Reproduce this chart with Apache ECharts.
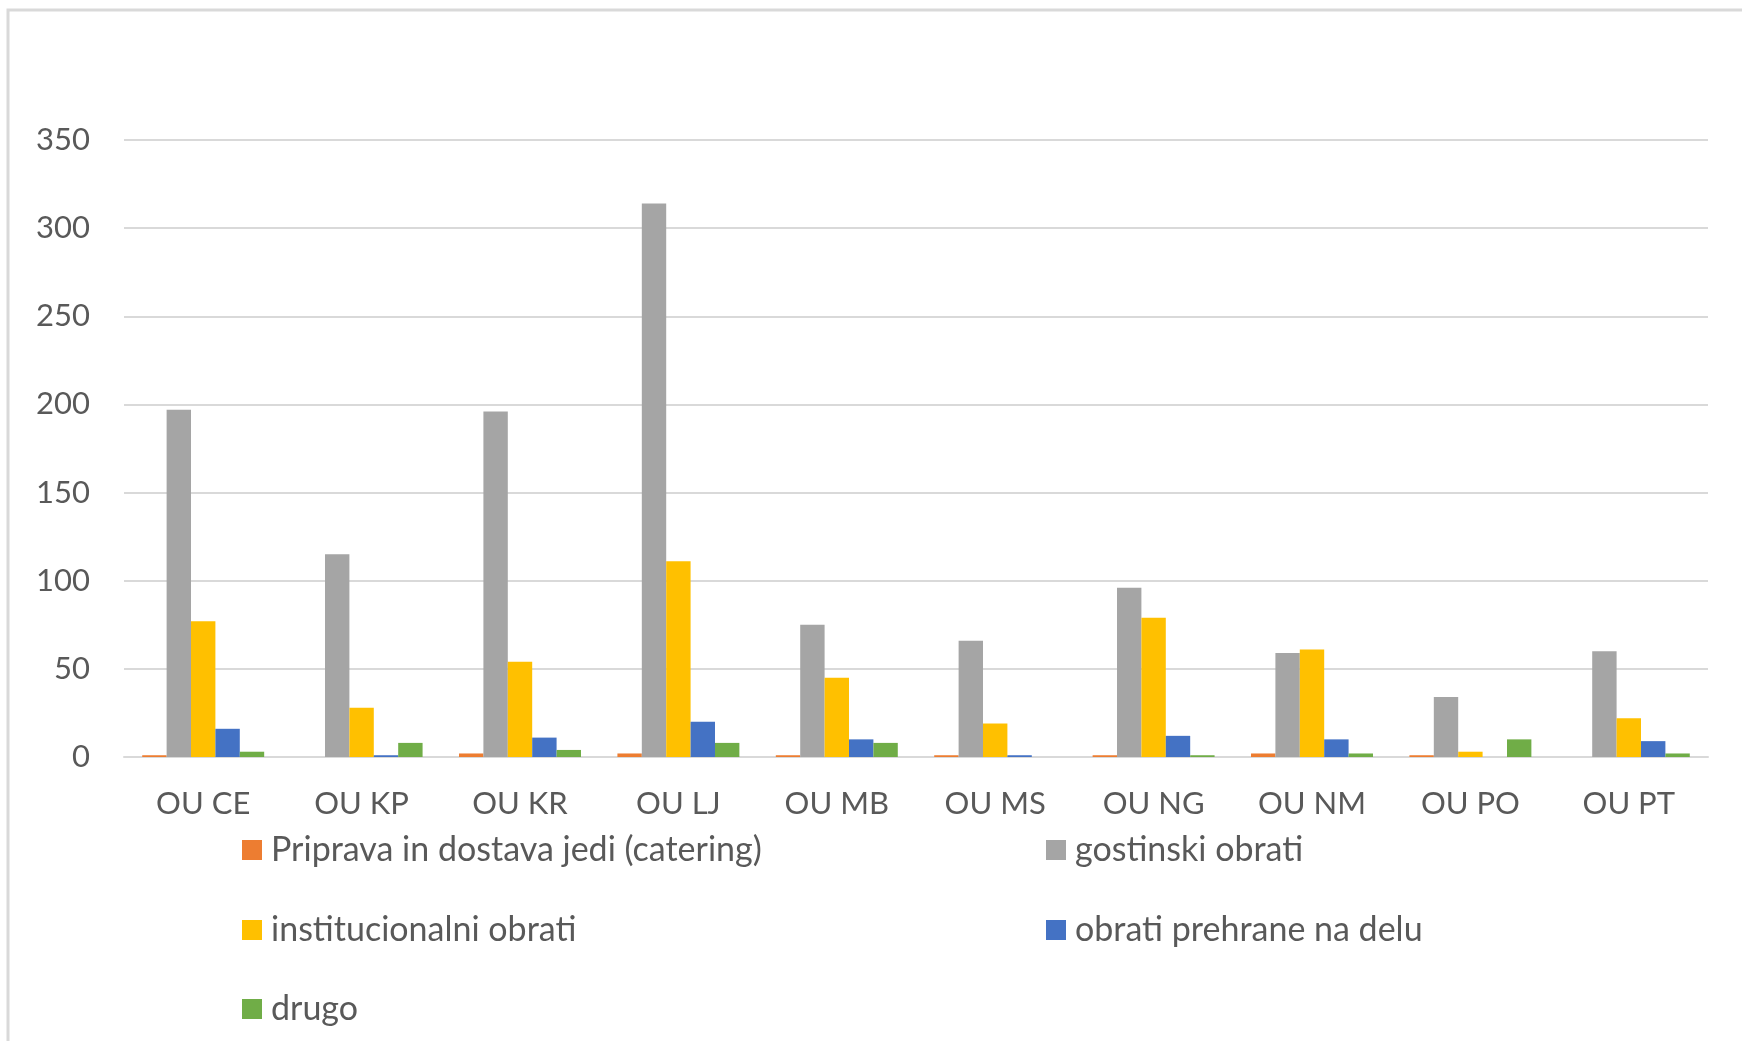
<!DOCTYPE html>
<html>
<head>
<meta charset="utf-8">
<script src="https://cdn.jsdelivr.net/npm/echarts@6/dist/echarts.min.js"></script>
<style>
html,body{margin:0;padding:0;background:#fff;}
#chart{width:1742px;height:1041px;}
</style>
</head>
<body>
<div id="chart"></div>
<script>
const categories = ['OU CE','OU KP','OU KR','OU LJ','OU MB','OU MS','OU NG','OU NM','OU PO','OU PT'];
const seriesNames = ['Priprava in dostava jedi (catering)','gostinski obrati','institucionalni obrati','obrati prehrane na delu','drugo'];
const catering = [1,0,2,2,1,1,1,2,1,0];
const gostinski = [197,115,196,314,75,66,96,59,34,60];
const institucionalni = [77,28,54,111,45,19,79,61,3,22];
const prehranaNaDelu = [16,1,11,20,10,1,12,10,0,9];
const drugo = [3,8,4,8,8,0,1,2,10,2];
const yTicks = [0,50,100,150,200,250,300,350];

const colors = ['#ED7D31','#A5A5A5','#FFC000','#4472C4','#70AD47'];
const allData = [catering, gostinski, institucionalni, prehranaNaDelu, drugo];
const FONT = 'Lato';
const TXT = '#595959';

const legendPos = [
  {left: 242, top: 833},
  {left: 1046, top: 833},
  {left: 242, top: 913},
  {left: 1046, top: 913},
  {left: 242, top: 992}
];

const chart = echarts.init(document.getElementById('chart'));
chart.setOption({
  backgroundColor: '#fff',
  animation: false,
  textStyle: {fontFamily: FONT},
  graphic: [{
    type: 'rect', silent: true,
    shape: {x: 8, y: 10, width: 1800, height: 1100},
    style: {fill: 'none', stroke: '#d9d9d9', lineWidth: 3}
  }],
  legend: seriesNames.map((n, i) => ({
    data: [n],
    left: legendPos[i].left,
    top: legendPos[i].top,
    icon: 'rect',
    itemWidth: 20,
    itemHeight: 20,
    padding: 0,
    selectedMode: false,
    textStyle: {fontFamily: FONT, fontSize: 34, color: TXT, padding: [0,0,0,4]}
  })),
  grid: {left: 124, right: 34, top: 140, bottom: 284, containLabel: false},
  xAxis: {
    type: 'category',
    data: categories,
    axisLine: {lineStyle: {color: '#d9d9d9', width: 2}},
    axisTick: {show: false},
    axisLabel: {fontFamily: FONT, fontSize: 31, color: TXT, margin: 31}
  },
  yAxis: {
    type: 'value',
    min: yTicks[0],
    max: yTicks[yTicks.length - 1],
    interval: 50,
    axisLine: {show: false},
    axisTick: {show: false},
    splitLine: {lineStyle: {color: '#d9d9d9', width: 2}},
    axisLabel: {fontFamily: FONT, fontSize: 31, color: TXT, margin: 34}
  },
  series: seriesNames.map((n, i) => ({
    name: n,
    type: 'bar',
    data: allData[i],
    itemStyle: {color: colors[i]},
    barGap: '0%',
    barCategoryGap: '23%'
  }))
});
</script>
</body>
</html>
